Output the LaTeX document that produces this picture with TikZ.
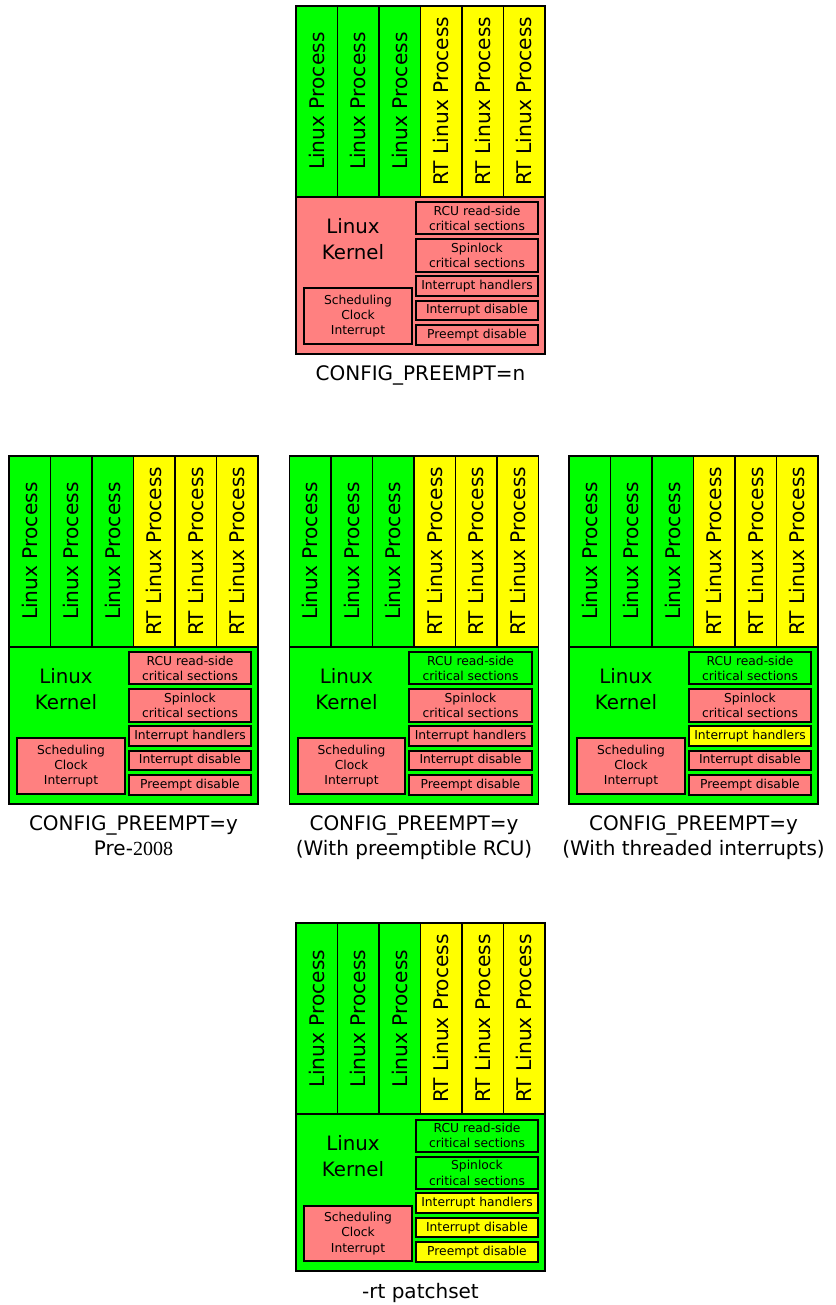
\documentclass[tikz,border=0pt]{standalone}
\usepackage{fontspec}
\setmainfont{DejaVu Sans}
\newfontfamily\yearfont{Liberation Serif}
\usetikzlibrary{positioning}
\definecolor{linuxGreen}{RGB}{0,255,0}
\definecolor{rtYellow}  {RGB}{255,255,0}
\definecolor{kernRed}   {RGB}{255,128,128}
\tikzset{
  proc/.style = {rectangle, draw=black, fill=#1, line width=1.8pt, rotate=90,
                 minimum width=191pt, minimum height=41.5pt, inner sep=0pt,
                 font=\fontsize{20.2}{24}\selectfont},
  kern/.style = {rectangle, draw=black, fill=#1, line width=1.8pt,
                 minimum width=249pt, minimum height=157.3pt, inner sep=0pt},
  sect/.style = {rectangle, draw=black, fill=#1, line width=1.8pt,
                 minimum width=122.6pt, inner sep=0pt, align=center,
                 font=\fontsize{12.3}{15.4}\selectfont},
  ktxt/.style = {align=center, inner sep=0pt, font=\fontsize{19.8}{25.7}\selectfont},
  capt/.style = {align=center, inner sep=0pt, font=\fontsize{20}{25}\selectfont},
}
% #1 prefix, #2 origin, #3 kernel, #4 rcu, #5 spinlock, #6 irq handlers,
% #7 irq disable, #8 preempt disable, #9 caption
\newcommand{\preemptdiag}[9]{%
  \begin{scope}[shift={#2}]
    \foreach \i in {0,1,2}
      \node[proc=linuxGreen] (#1p\i) at ({20.75+41.5*\i},-95.5) {Linux Process};
    \foreach \i in {3,4,5}
      \node[proc=rtYellow] (#1p\i) at ({20.75+41.5*\i},-95.5) {RT Linux Process};
    \node[kern=#3] (#1kern) at (124.5,-269.65) {};
    \node[ktxt] (#1ktxt) at (57,-233.3) {Linux\\Kernel};
    \node[sect=#4, minimum height=32pt]   (#1rcu)  at (181,-212.6)  {RCU read-side\\critical sections};
    \node[sect=#5, minimum height=32.4pt] (#1spin) at (181,-249.8)  {Spinlock\\critical sections};
    \node[sect=#6, minimum height=19.7pt] (#1irq)  at (181,-280.15) {Interrupt handlers};
    \node[sect=#7, minimum height=19.3pt] (#1dis)  at (181,-304.65) {Interrupt disable};
    \node[sect=#8, minimum height=20pt]   (#1pre)  at (181,-329.3)  {Preempt disable};
    \node[sect=kernRed, minimum width=107.4pt, minimum height=55.7pt]
         (#1sched) at (62,-310.45) {Scheduling\\Clock\\Interrupt};
    \node[capt, below=10.5pt of #1kern] (#1cap) {#9};
  \end{scope}}

\begin{document}
\begin{tikzpicture}[x=1pt, y=1pt]
\useasboundingbox (0,0) rectangle (835,-1305);

% ---- Top: non-preemptible ---------------------------------------------------
\preemptdiag{pn}{(296,-5.7)}{kernRed}{kernRed}{kernRed}{kernRed}{kernRed}{kernRed}
  {CONFIG\_PREEMPT=n}

% ---- Middle row -------------------------------------------------------------
\preemptdiag{py}{(9,-455.7)}{linuxGreen}{kernRed}{kernRed}{kernRed}{kernRed}{kernRed}
  {CONFIG\_PREEMPT=y\\Pre-{\yearfont 2008}}
\preemptdiag{prcu}{(289.5,-455.7)}{linuxGreen}{linuxGreen}{kernRed}{kernRed}{kernRed}{kernRed}
  {CONFIG\_PREEMPT=y\\(With preemptible RCU)}
\preemptdiag{pthr}{(569,-455.7)}{linuxGreen}{linuxGreen}{kernRed}{rtYellow}{kernRed}{kernRed}
  {CONFIG\_PREEMPT=y\\(With threaded interrupts)}

% ---- Bottom: -rt patchset ---------------------------------------------------
\preemptdiag{prt}{(296,-923)}{linuxGreen}{linuxGreen}{linuxGreen}{rtYellow}{rtYellow}{rtYellow}
  {-rt patchset}

\end{tikzpicture}
\end{document}
